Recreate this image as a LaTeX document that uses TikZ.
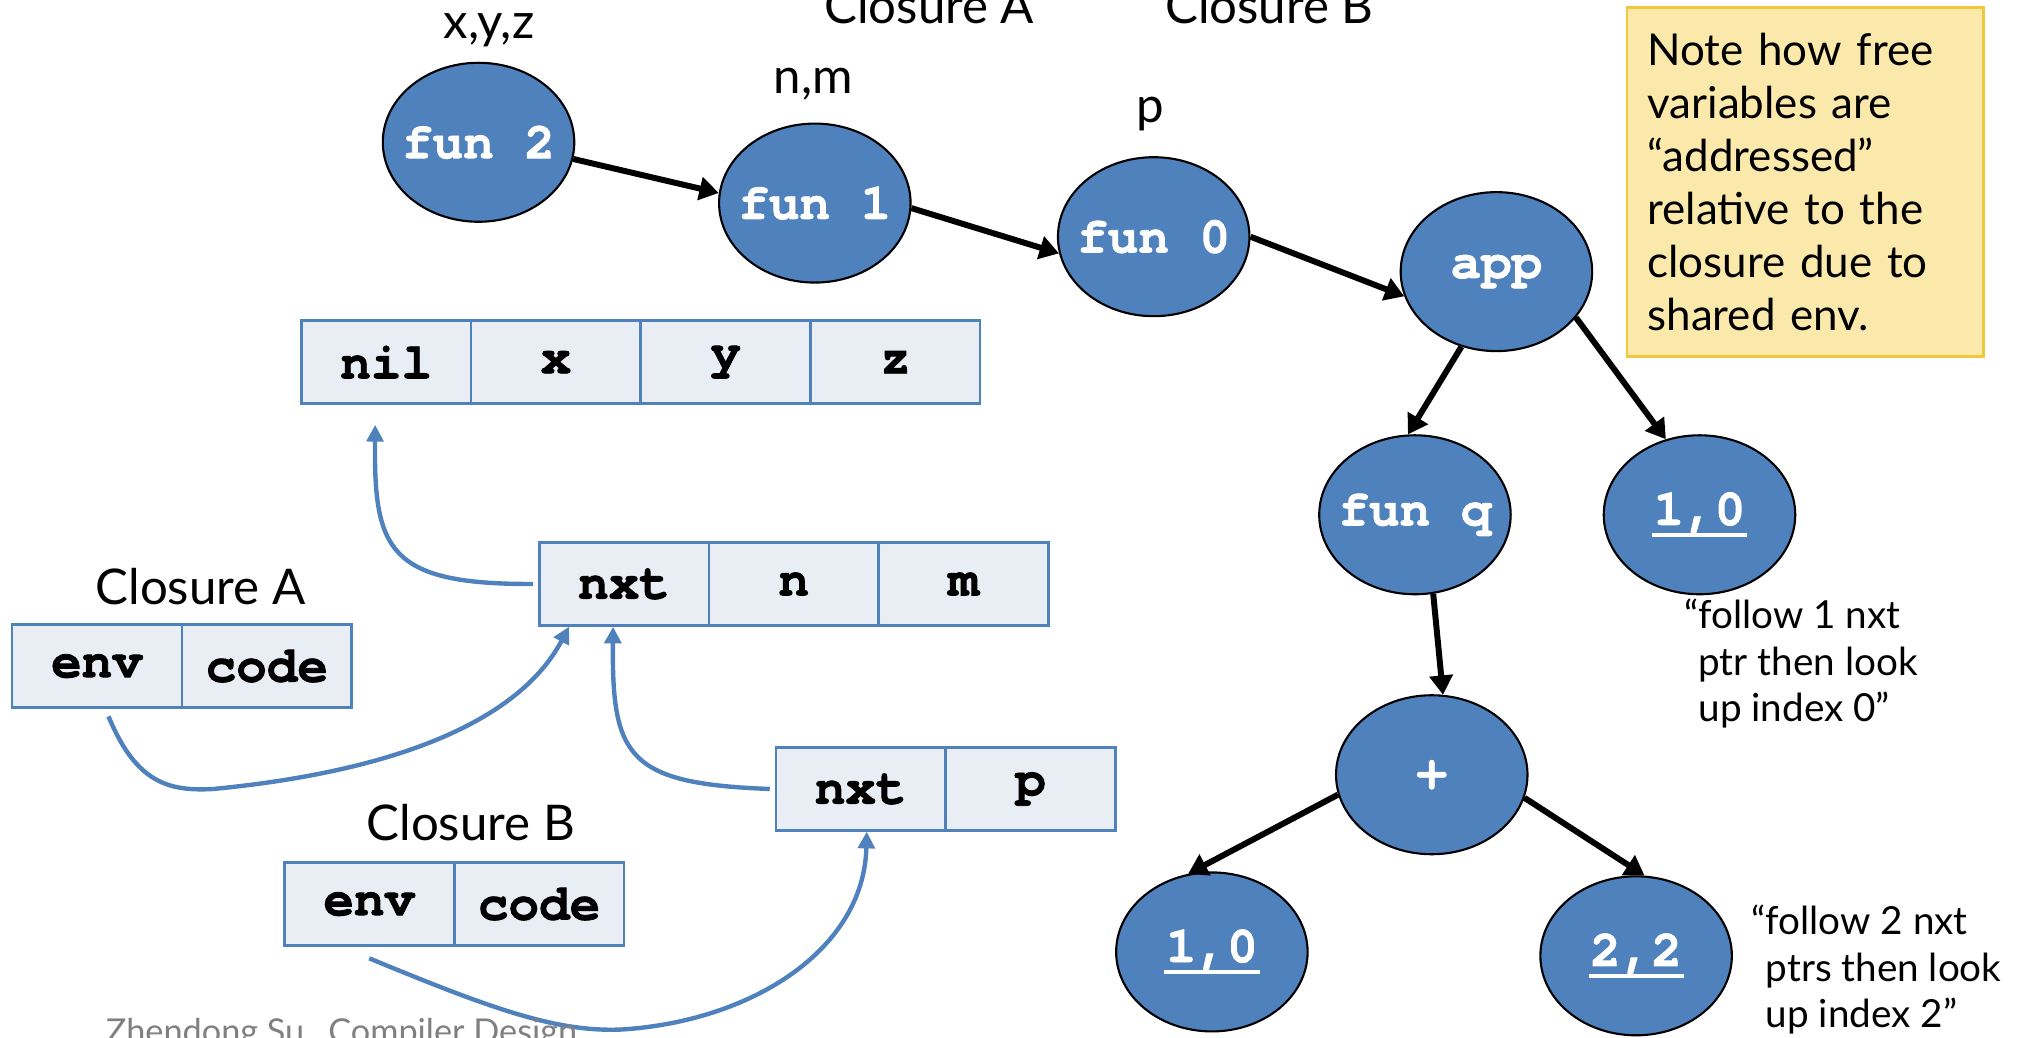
\documentclass[tikz,border=0pt]{standalone}
\usepackage{fontspec}
\setmainfont{Lato}
\setmonofont[BoldFeatures={FakeBold=1.6}]{TeX Gyre Cursor}
\usepackage{tikz}
\usetikzlibrary{shapes,arrows.meta,positioning,calc,shapes.geometric}
\definecolor{nodeblue}{RGB}{79,129,189}
\definecolor{cellfill}{RGB}{233,237,244}
\definecolor{notefill}{RGB}{250,233,170}
\definecolor{notedraw}{RGB}{240,200,60}
\definecolor{footgray}{RGB}{128,128,128}
\newcommand{\ulnum}[1]{\setbox0\hbox{#1}\rlap{\hspace{-1pt}\rule[-7pt]{\dimexpr\wd0+2pt\relax}{2.2pt}}\box0}
\tikzset{
  cell/.style={draw=nodeblue, fill=cellfill, line width=1.4pt,
    minimum width=3.39cm, minimum height=1.66cm, inner sep=0pt,
    font=\ttfamily\bfseries\fontsize{29}{30}\selectfont},
  ast/.style={ellipse, draw=black, line width=1.2pt, fill=nodeblue,
    minimum width=3.83cm, minimum height=3.18cm, inner xsep=-1cm, inner ysep=0pt,
    text=white, font=\ttfamily\bfseries\fontsize{29}{30}\selectfont},
  lbl/.style={font=\fontsize{28}{30}\selectfont, anchor=base},
  tree/.style={-{Triangle[width=13pt,length=11pt]}, line width=3.4pt},
  ptr/.style={-{Triangle[width=9.5pt,length=9.5pt]}, draw=nodeblue,
    line width=2.5pt},
  remark/.style={font=\fontsize{22}{26.5}\selectfont, align=left,
    anchor=north west, inner sep=0pt}
}

\begin{document}
\begin{tikzpicture}[x=2.587mm, y=-2.587mm]
  \useasboundingbox (0,0) rectangle (156.8,80.2);
  % AST
  \node[ast] (f2) at (37.0,11.0) {fun 2};
  \node[ast] (f1) at (63.0,15.7) {fun 1};
  \node[ast] (f0) at (89.2,18.3) {fun 0};
  \node[ast] (app) at (115.7,21.0) {app};
  \node[ast] (funq) at (109.4,39.8) {fun q};
  \node[ast] (var10) at (131.4,39.8) {\ulnum{1,0}};
  \node[ast] (plus) at (110.7,59.9) {+};
  \node[ast] (var10b) at (93.7,73.6) {\ulnum{1,0}};
  \node[ast] (var22) at (126.5,73.9) {\ulnum{2,2}};
  \draw[tree] (f2.-10) -- (f1.174);
  \draw[tree] (f1.-3) -- (f0.190);
  \draw[tree] (f0.0) -- (app.195);
  \draw[tree] (app.245) -- (funq.95);
  \draw[tree] (app.-30) -- (var10.114);
  \draw[tree] (funq.-77) -- (plus.82);
  \draw[tree] (plus.192) -- (var10b.107);
  \draw[tree] (plus.-14) -- (var22.84);
  % variable labels
  \node[lbl] (lxyz) at (37.8,3.0) {x,y,z};
  \node[lbl] (lnm) at (62.9,7.2) {n,m};
  \node[lbl] (lp) at (88.9,9.5) {p};
  \node[lbl] (topa) at (71.85,1.8) {Closure A};
  \node[lbl] (topb) at (98.15,1.8) {Closure B};
  % note
  \node[draw=notedraw, fill=notefill, line width=1.4pt, anchor=north west,
        text width=6.31cm, inner xsep=4.1mm, minimum height=6.98cm,
        align=left, font=\fontsize{25}{30.2}\selectfont] (note) at (125.7,0.5)
    {Note how free\\variables are\\“addressed”\\relative to the\\closure due to\\shared env.};
  % environments
  \foreach [count=\c from 0] \v in {nil,x,y,z}
    \node[cell] (e0-\c) at (29.86+\c*13.125, 28.0) {\v};
  \foreach [count=\c from 0] \v in {nxt,n,m}
    \node[cell] (e1-\c) at (48.25+\c*13.125, 45.15) {\v};
  \foreach [count=\c from 0] \v in {nxt,p}
    \node[cell] (e2-\c) at (66.55+\c*13.13, 61.0) {\v};
  % closures
  \node[lbl] (lca) at (15.5,46.7) {Closure A};
  \foreach [count=\c from 0] \v in {env,code}
    \node[cell] (ca-\c) at (7.5+\c*13.13, 51.5) {\v};
  \node[lbl] (lcb) at (36.4,65.0) {Closure B};
  \foreach [count=\c from 0] \v in {env,code}
    \node[cell] (cb-\c) at (28.55+\c*13.13, 69.9) {\v};
  % pointers
  \draw[ptr] ([xshift=-1mm]e1-0.west) .. controls (30.0,45.2) and (28.9,42.5)
    .. ([xshift=-2.2mm,yshift=-4mm]e0-0.south);
  \draw[ptr] ([xshift=2.3mm,yshift=-1.5mm]ca-0.south) .. controls (10.5,60.5) and (13.0,61.2)
    .. (16.5,61.0) .. controls (30.0,59.7) and (40.0,56.0) .. ([xshift=-11mm]e1-0.south);
  \draw[ptr] ([xshift=-1mm]e2-0.west) .. controls (48.5,60.6) and (47.3,58.5)
    .. ([xshift=-2.2mm]e1-0.south);
  \draw[ptr] ([yshift=-2.3mm]cb-0.south) .. controls (38.0,78.0) and (43.0,79.8)
    .. (48.0,79.6) .. controls (58.0,79.0) and (66.8,73.5) .. ([xshift=1.2mm]e2-0.south);
  % remarks
  \node[remark] (r1) at (130.2,46.3)
    {“follow 1 nxt\\\hphantom{“}ptr then look\\\hphantom{“}up index 0”};
  \node[remark] (r2) at (135.4,69.95)
    {“follow 2 nxt\\\hphantom{“}ptrs then look\\\hphantom{“}up index 2”};
  % footer
  \node[anchor=base west, text=footgray, font=\fontsize{19.5}{24}\selectfont] (foot)
    at (7.7,80.7) {Zhendong Su\hspace{0.7em}Compiler Design};
\end{tikzpicture}
\end{document}
